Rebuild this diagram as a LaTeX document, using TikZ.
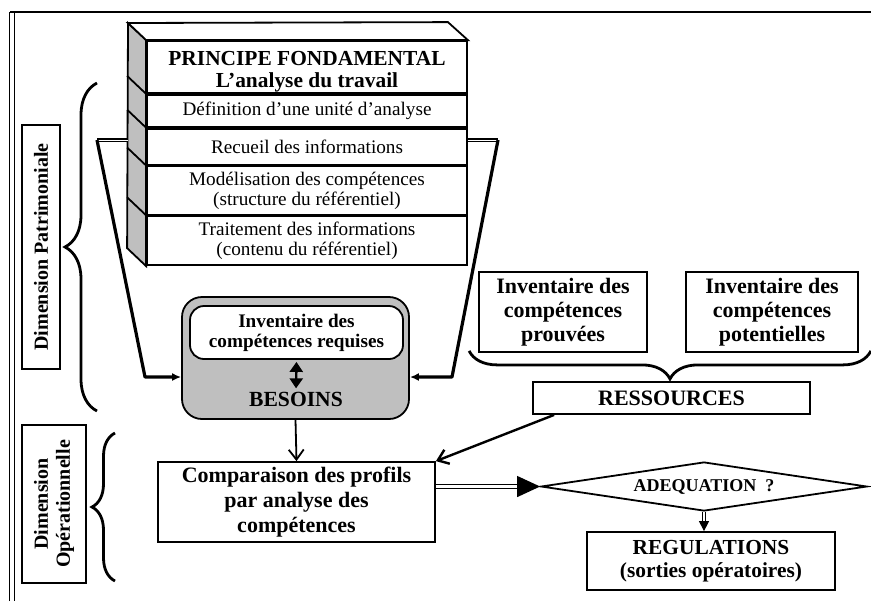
\documentclass[tikz,border=0pt]{standalone}
\usepackage{fontspec}
\setmainfont{Liberation Serif}
\usetikzlibrary{calc}
\usetikzlibrary{arrows.meta}
\usetikzlibrary{shapes.geometric}
\usetikzlibrary{decorations.pathreplacing}

\definecolor{boxgray}{gray}{0.75}

\begin{document}
\begin{tikzpicture}[x=0.5pt,y=-0.5pt,
  box/.style={draw,line width=0.9pt,fill=white,align=center,inner sep=0pt,font=\fontsize{11}{12.3}\selectfont\bfseries},
  row/.style={draw,line width=0.9pt,fill=white,align=center,inner sep=0pt,minimum width=160pt,font=\fontsize{9.6}{10}\selectfont},
  funnel/.style={line width=1.6pt,line join=round},
  dbl/.style={double,double distance=0.6pt,line width=0.6pt},
  curly/.style={decorate,decoration={brace,amplitude=#1},line width=1.4pt},
  ]
\useasboundingbox (0,0) rectangle (871,601);

% cadre
\draw[double,double distance=1.6pt,line width=0.6pt] (12,601) -- (12,12);
\draw[line width=0.9pt] (10,12) -- (871,12);

% bloc "principe fondamental"
\node[row,minimum height=26pt,font=\fontsize{10.7}{11.2}\selectfont\bfseries] (titre) at (307,67) {\rule{0pt}{12pt}PRINCIPE FONDAMENTAL\\L’analyse du travail};
\node[row,minimum height=16pt,anchor=north] (defn) at (titre.south) {Définition d’une unité d’analyse};
\node[row,minimum height=18pt,anchor=north] (recueil) at (defn.south) {Recueil des informations};
\node[row,minimum height=24pt,anchor=north] (model) at (recueil.south) {Modélisation des compétences\\(structure du référentiel)};
\node[row,minimum height=24.5pt,anchor=north] (traite) at (model.south) {Traitement des informations\\(contenu du référentiel)};

\coordinate (back) at (128,23);
\filldraw[fill=boxgray,line width=0.9pt] (titre.north west) -- (back) -- ($(traite.south west)+(-19,-18)$) -- (traite.south west) -- cycle;
\draw[line width=0.9pt,fill=white] (titre.north west) -- (back) -- ($(titre.north east)+(-20,-18)$) -- (titre.north east) -- cycle;
\foreach \r in {defn,recueil,model,traite}
  \draw[line width=0.9pt] (\r.north west) -- ++(-19,-18);

% besoins
\node[draw,line width=0.9pt,fill=boxgray,rounded corners=10pt,minimum width=113.5pt,minimum height=61pt] (besoins) at (295.5,358) {};
\node[box,rounded corners=7pt,minimum width=106.5pt,minimum height=26.5pt,font=\fontsize{9.6}{10}\selectfont\bfseries] (requis) at (296.5,332.5) {Inventaire des\\compétences requises};
\node[inner sep=0pt,font=\fontsize{10.8}{12}\selectfont\bfseries] (besoinslbl) at (296,399) {BESOINS};
\draw[line width=1.2pt,{Triangle[length=5pt,width=6.5pt]}-{Triangle[length=5pt,width=6.5pt]},shorten <=1pt,shorten >=1.5pt] (requis.south) -- (besoinslbl.north);

% entonnoir
\coordinate (fl) at (97,140);
\coordinate (flb) at (145,377);
\coordinate (fr) at (498,140);
\coordinate (frb) at (452,377);
\draw[dbl,line width=0.9pt,double distance=0.4pt] (fl -| back) -- (fl);
\draw[funnel,-{Latex[length=4.5pt,width=4pt]}] (fl) -- (flb) -- (flb -| besoins.west);
\draw[dbl,line width=0.9pt,double distance=0.4pt] (recueil.east |- fr) -- (fr);
\draw[funnel,-{Latex[length=4.5pt,width=4pt]}] (fr) -- (frb) -- (frb -| besoins.east);

% dimensions
\node[box,rotate=90,minimum width=122pt,minimum height=19pt,font=\fontsize{10}{11}\selectfont\bfseries] (patri) at (41,247) {Dimension Patrimoniale};
\node[box,rotate=90,minimum width=79pt,minimum height=32pt,font=\fontsize{10}{11}\selectfont\bfseries] (opera) at (54,504) {Dimension\\Opérationnelle};
\draw[curly=16pt] (97,411) -- (97,83);
\draw[curly=11.5pt] (115,581) -- (115,433);

% ressources
\node[box,minimum width=84pt,minimum height=40pt,font=\fontsize{11}{12}\selectfont\bfseries] (prouv) at (563,312) {Inventaire des\\compétences\\prouvées};
\node[box,minimum width=86pt,minimum height=40pt,font=\fontsize{11}{12}\selectfont\bfseries] (pot) at (772,312) {Inventaire des\\compétences\\potentielles};
\draw[curly=14pt] ($(pot.south east)+(12,-2)$) -- ($(prouv.south west)+(-9,-2)$);
\node[box,minimum width=138.5pt,minimum height=16pt] (ress) at (671.5,398) {RESSOURCES};

% comparaison
\node[box,minimum width=138.5pt,minimum height=40pt] (comp) at (296.5,502) {Comparaison des profils\\par analyse des\\compétences};
\node[draw,line width=0.9pt,diamond,aspect=6.6,inner sep=0pt,minimum width=163pt,minimum height=24.5pt,font=\fontsize{9}{10}\selectfont\bfseries] (adeq) at (704,486.5) {ADEQUATION \ ?};
\node[box,minimum width=124pt,minimum height=29pt,font=\fontsize{10.7}{11.5}\selectfont\bfseries] (reg) at (711,561) {REGULATIONS\\(sorties opératoires)};

\draw[line width=0.9pt,-{Straight Barb[length=5pt,width=7.5pt]}] (besoins.south) -- (comp.north);
\draw[line width=1.2pt,-{Straight Barb[length=5pt,width=7.5pt]}] ([xshift=11pt]ress.south west) -- (comp.north east);
\draw[dbl,double distance=1.2pt,-{Triangle[length=11.5pt,width=10.5pt]}] (comp.east |- adeq.west) -- (adeq.west);
\draw[dbl,-{Triangle[length=5pt,width=5pt]}] (adeq.south) -- (adeq.south |- reg.north);

\end{tikzpicture}
\end{document}
